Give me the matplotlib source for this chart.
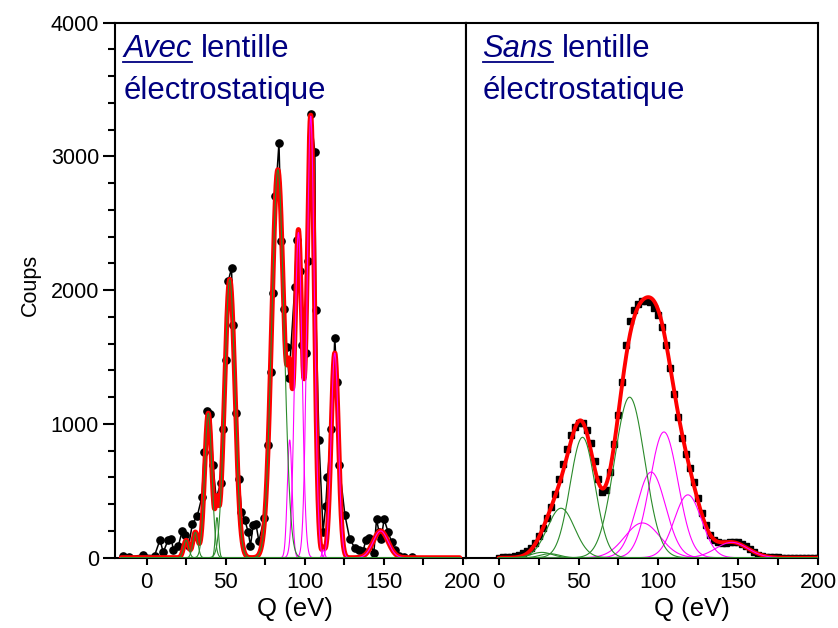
import numpy as np
import matplotlib
matplotlib.use("Agg")
import matplotlib.pyplot as plt
from matplotlib.lines import Line2D
from matplotlib.ticker import MultipleLocator

plt.rcParams.update({"font.family": "Liberation Sans", "axes.linewidth": 1.5})

NAVY, RED, GREEN, MAGENTA = "#000080", "#ff0000", "#2a8a2a", "#ff00ff"

# --- "Avec lentille": measured points (Q in eV, counts) ---
avec_q = [-15, -11, -2, 5, 8.5, 10.5, 13.5, 15.5, 17, 20, 22.5, 24, 26.5, 29, 32, 35,
          36.5, 38.3, 40.4, 42, 44, 47, 48.3, 50.1, 51.6, 53.7, 54.7, 56.5, 58.5, 60,
          62, 64.2, 65.7, 67.4, 69.1, 71, 74.5, 77, 78.4, 80, 81.5, 83.7, 85.3, 87,
          88.5, 90.1, 93.7, 94.8, 96.9, 98, 100.7, 102.2, 103.7, 106.4, 107, 109,
          111.6, 113.3, 114.4, 116.9, 119, 120.5, 121.8, 125.4, 128.5, 131.7, 134.5,
          137, 138.6, 140.7, 143.7, 145.4, 147, 148.3, 150.2, 152.7, 154.9, 157, 159.7,
          163, 168]
avec_counts = [15, 8, 20, 15, 135, 40, 130, 140, 60, 85, 200, 170, 85, 255, 310, 455,
               790, 1100, 1075, 690, 445, 560, 960, 1480, 2065, 2165, 1740, 1085, 585, 345,
               285, 195, 90, 245, 255, 125, 300, 840, 1385, 1980, 2700, 3100, 2365, 1860,
               1575, 1345, 2025, 2375, 2145, 1590, 1530, 2220, 3320, 3030, 1850, 880,
               195, 390, 605, 960, 1645, 1310, 690, 320, 137, 75, 55,
               52, 132, 145, 35, 287, 194, 140, 287, 194, 120, 58, 13,
               5, 3]
# fitted components (centre, height, sigma)
avec_green = [(25.0, 130, 1.6), (30.8, 190, 1.6), (39.0, 1080, 2.3), (44.5, 300, 1.0),
              (52.6, 2080, 3.3), (83.0, 2900, 3.9)]
avec_magenta = [(90.5, 880, 1.5), (96.0, 2430, 2.3), (103.8, 3300, 2.3), (111.8, 60, 0.8),
                (119.0, 1530, 2.3), (148.0, 200, 4.7)]

# --- "Sans lentille" ---
sans_q = [0, 2.5, 5, 7.5, 10, 12.5, 15, 17.5, 20, 22.5, 25, 27.5, 30, 32.5, 35, 37.5,
          40, 42.5, 45, 47.5, 50, 52.5, 55, 57.5, 60, 62.5, 65, 67.5, 70, 72.5, 75, 77.5,
          80, 82.5, 85, 87.5, 90, 92.5, 95, 97.5, 100, 102.5, 105, 107.5, 110, 112.5,
          115, 117.5, 120, 122.5, 125, 127.5, 130, 132.5, 135, 137.5, 140, 142.5, 145,
          147.5, 150, 152.5, 155, 157.5, 160, 162.5, 165, 167.5, 170, 172.5, 175, 177.5,
          180, 182.5, 185, 187.5, 190, 192.5, 195, 197.5, 200]
sans_counts = [0, 2, 5, 8, 14, 22, 33, 47, 72, 110, 160, 225, 295, 380, 475, 585,
               700, 815, 915, 980, 1010, 1005, 955, 855, 720, 590, 490, 505, 640, 850,
               1070, 1310, 1590, 1770, 1855, 1900, 1918, 1922, 1908, 1870, 1812, 1725,
               1590, 1415, 1225, 1055, 895, 775, 670, 565, 445, 335, 245, 170, 130, 115,
               108, 110, 117, 121, 117, 104, 85, 63, 40, 24, 14, 8, 5, 3, 2, 1,
               0, 0, 0, 0, 0, 0, 0, 0, 0]
sans_green = [(27.0, 40, 6.5), (32.0, 30, 6.0), (39.0, 370, 8.5), (52.5, 900, 7.8),
              (82.0, 1200, 9.5)]
sans_magenta = [(90.0, 260, 11.0), (95.5, 640, 9.0), (103.5, 940, 8.8), (118.5, 470, 8.5),
                (146.0, 115, 10.0)]


def gauss(x, c, h, s):
    return h * np.exp(-(x - c) ** 2 / (2 * s * s))


fig = plt.figure(figsize=(8.38, 6.28), dpi=100)
axL = fig.add_axes([0.1372, 0.1119, 0.4189, 0.8522])
axR = fig.add_axes([0.5561, 0.1119, 0.4200, 0.8522])


def panel(ax, q, counts, green, magenta, span, sq, red_lw):
    x = np.linspace(span[0], span[1], 2500)
    if sq:
        ax.plot(q, counts, ls="none", marker="s", ms=4.6, color="black", zorder=2)
    else:
        ax.plot(q, counts, color="black", lw=1.1, marker="o", ms=5.2, zorder=2)
    total = sum(gauss(x, *p) for p in green + magenta)
    ax.plot(x, total, color=RED, lw=red_lw, zorder=3, solid_capstyle="round")
    for p in magenta:
        ax.plot(x, gauss(x, *p), color=MAGENTA, lw=0.8, zorder=4)
    for p in green:
        ax.plot(x, gauss(x, *p), color=GREEN, lw=0.8, zorder=5)
    ax.set_ylim(0, 4000)
    ax.set_xticks([0, 50, 100, 150, 200])
    ax.xaxis.set_minor_locator(MultipleLocator(25))
    ax.tick_params(axis="x", which="both", direction="out", length=5, width=1.5,
                   labelsize=16, pad=5)


panel(axL, avec_q, avec_counts, avec_green, avec_magenta, (-16, 198), False, 3.6)
panel(axR, sans_q, sans_counts, sans_green, sans_magenta, (0, 200), True, 2.8)
axL.set_xlim(-20, 202)
axR.set_xlim(-20.5, 200)

axL.set_yticks([0, 1000, 2000, 3000, 4000])
axL.yaxis.set_minor_locator(MultipleLocator(200))
axL.tick_params(axis="y", which="major", direction="out", length=8.5, width=1.5,
                labelsize=15.5, pad=3)
axL.tick_params(axis="y", which="minor", direction="out", length=5, width=1.5)
axR.tick_params(axis="y", which="both", left=False, labelleft=False)

fig.text(30 / 838, 1 - 285 / 628, "Coups", rotation=90, ha="center", va="center",
         fontsize=15.5)
fig.text(295 / 838, 1 - 616 / 628, "Q (eV)", ha="center", va="baseline", fontsize=18.5)
fig.text(692 / 838, 1 - 616 / 628, "Q (eV)", ha="center", va="baseline", fontsize=18.5)


def title(ax, x, word):
    fs = 22.3
    y1 = (557.7 - 56.5) / 535.2
    y2 = (557.7 - 99) / 535.2
    t = ax.text(x, y1, word, transform=ax.transAxes, style="italic", color=NAVY,
                fontsize=fs, va="baseline")
    fig.canvas.draw()
    bb = t.get_window_extent()
    gap = 0.278 * fs * 100 / 72
    xr = ax.transAxes.inverted().transform((bb.x1 + gap, 0))[0]
    ax.text(xr, y1, "lentille", transform=ax.transAxes, color=NAVY, fontsize=fs,
            va="baseline")
    ax.text(x, y2, "électrostatique", transform=ax.transAxes, color=NAVY, fontsize=fs,
            va="baseline")
    yu = (628 - 61.5) / 628
    fig.add_artist(Line2D([bb.x0 / 838, bb.x1 / 838], [yu, yu], transform=fig.transFigure,
                          color=NAVY, lw=1.3))


title(axL, 0.024, "Avec")
title(axR, 0.047, "Sans")

fig.savefig("out.png", dpi=100)
